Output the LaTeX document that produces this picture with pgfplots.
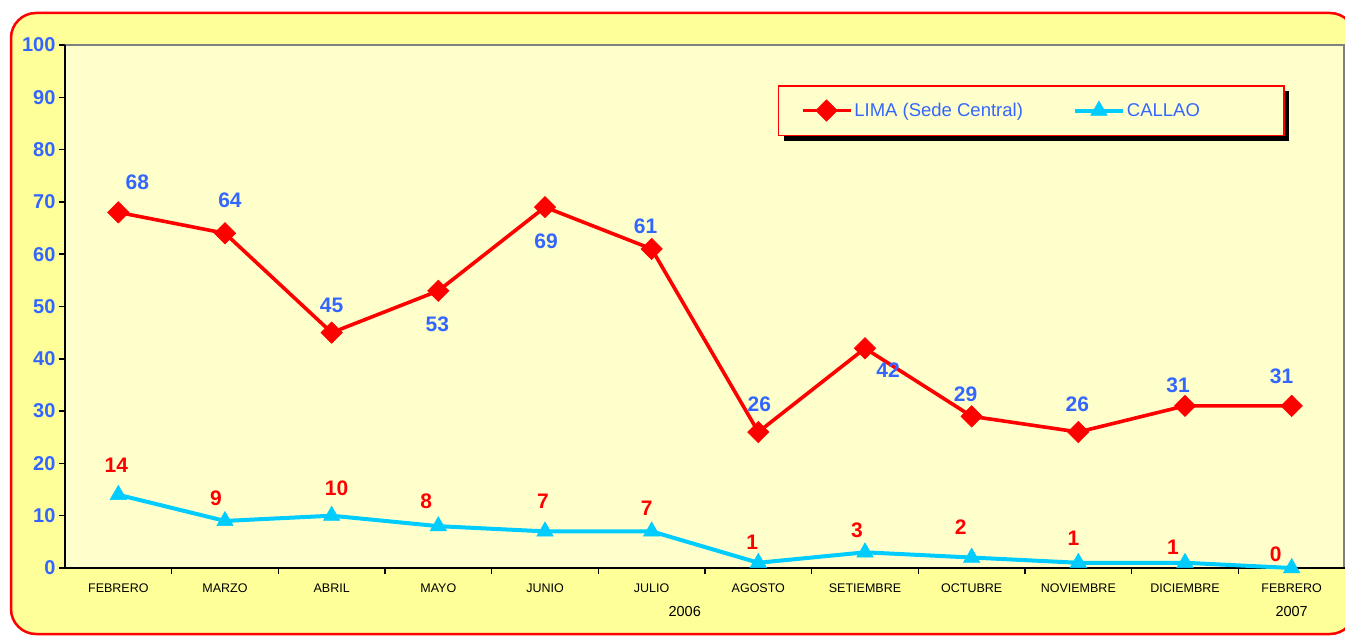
\documentclass[border=0pt]{standalone}
\usepackage{pgfplots}
\usepackage{pgfplotstable}
\pgfplotsset{compat=1.18}
\usepackage{fontspec}
\setmainfont{Liberation Sans}
\definecolor{outerY}{HTML}{FFFF99}
\definecolor{innerY}{HTML}{FFFFCC}
\definecolor{lblue}{HTML}{3366FF}
\definecolor{cyanL}{HTML}{00CCFF}
\definecolor{redL}{HTML}{FF0000}

\pgfplotstableread{
x y dx dy
0 68 19 30
1 64 5 33
2 45 0 27
3 53 -1 -33
4 69 1 -34
5 61 -6 23
6 26 1 28
7 42 23 -22
8 29 -6 22
9 26 -1 28
10 31 -7 21
11 31 -10 30
}\lima

\pgfplotstableread{
x y dx dy
0 14 -2 30
1 9 -9 23
2 10 5 27
3 8 -12 25
4 7 -2 30
5 7 -5 23
6 1 -6 20
7 3 -8 22
8 2 -11 30
9 1 -5 24
10 1 -12 15
11 0 -16 14
}\callao

\begin{document}
\begin{tikzpicture}[x=1pt,y=1pt]
\useasboundingbox (0,0) rectangle (1345,635);
\begin{scope}
\clip (0,0) rectangle (1345,635);
\filldraw[fill=outerY, draw=redL, line width=2.5pt, rounded corners=25pt] (11,1) rectangle (1355,622);
\end{scope}
\fill[innerY] (65,67) rectangle (1344,590);
\draw[gray, line width=1.2pt] (65,590) -- (1344,590) -- (1344,67);
\fill[black] (784,494) rectangle (1289,544);
\begin{axis}[
  at={(65pt,67pt)}, anchor=south west,
  scale only axis, width=1280pt, height=523pt,
  xmin=-0.5, xmax=11.5, ymin=0, ymax=100,
  clip=false,
  axis x line*=bottom, axis y line*=left,
  axis line style={black, line width=2pt},
  tick align=outside,
  xtick={0,...,11},
  xticklabels={FEBRERO,MARZO,ABRIL,MAYO,JUNIO,JULIO,AGOSTO,SETIEMBRE,OCTUBRE,NOVIEMBRE,DICIEMBRE,FEBRERO},
  major x tick style={draw=none},
  minor xtick={0.5,1.5,...,10.5},
  minor x tick style={black, line width=1.5pt},
  minor tick length=6pt,
  ytick={0,10,...,100},
  y tick style={black, line width=1.5pt},
  major tick length=6pt,
  xticklabel style={font=\fontsize{12.5}{15}\selectfont, text=black, yshift=-6pt},
  yticklabel style={font=\fontsize{20}{24}\selectfont\bfseries, text=lblue, /pgf/number format/assume math mode=true},
  legend columns=2,
  legend image code/.code={\draw[mark repeat=2,mark phase=2,#1] plot coordinates {(0pt,0pt) (24pt,0pt) (48pt,0pt)};},
  legend style={at={(0.557,0.9235)}, anchor=north west, draw=redL, line width=1.5pt, fill=innerY,
    font=\fontsize{18.5}{22}\selectfont, text=lblue, inner xsep=22pt, inner ysep=14pt,
    /tikz/every even column/.append style={column sep=48pt}},
]
\addplot[redL, line width=3.6pt, mark=square*, mark size=7.6pt, mark options={rotate=45, solid, line width=0.5pt}] table[x=x,y=y] {\lima};
\addlegendentry{LIMA (Sede Central)}
\addplot[cyanL, line width=4pt, mark=triangle*, mark size=9.5pt, mark options={solid, line width=0.5pt}] table[x=x,y=y] {\callao};
\addlegendentry{CALLAO\hspace*{60pt}}

\addplot[draw=none, mark=none, forget plot, point meta=explicit symbolic,
  nodes near coords,
  visualization depends on={\thisrow{dx}\as\dx},
  visualization depends on={\thisrow{dy}\as\dy},
  nodes near coords style={anchor=center, xshift=\dx pt, yshift=\dy pt, font=\fontsize{21}{24}\selectfont\bfseries, text=lblue}]
  table[x=x,y=y,meta=y] {\lima};
\addplot[draw=none, mark=none, forget plot, point meta=explicit symbolic,
  nodes near coords,
  visualization depends on={\thisrow{dx}\as\dx},
  visualization depends on={\thisrow{dy}\as\dy},
  nodes near coords style={anchor=center, xshift=\dx pt, yshift=\dy pt, font=\fontsize{21}{24}\selectfont\bfseries, text=redL}]
  table[x=x,y=y,meta=y] {\callao};

\node[font=\fontsize{14.5}{17}\selectfont] at (axis cs:5.31,0) [yshift=-44pt] {2006};
\node[font=\fontsize{14.5}{17}\selectfont] at (axis cs:11,0) [yshift=-44pt] {2007};
\end{axis}
\end{tikzpicture}
\end{document}
